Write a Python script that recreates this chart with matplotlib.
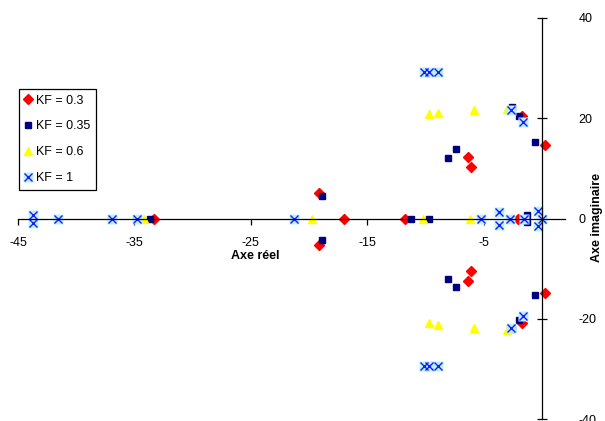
import matplotlib
matplotlib.use("Agg")
import matplotlib.pyplot as plt
from matplotlib.legend_handler import HandlerTuple

plt.rcParams['font.family'] = ['Liberation Sans', 'DejaVu Sans']
plt.rcParams['axes.unicode_minus'] = False

kf03_re = [-33.3, -16.95, -11.75, -2.05, -19.1, -19.1, -6.35, -6.35, -6.06, -6.06, -1.7, -1.7, 0.24, 0.24]
kf03_im = [0, 0, 0, 0, 5.0, -5.3, 12.3, -12.5, 10.3, -10.4, 20.4, -20.8, 14.7, -14.8]

kf035_re = [-33.7, -11.25, -9.67, -1.27, -1.27, -18.9, -18.9, -8.07, -8.07, -7.35, -7.35, -2.56, -2.56, -1.93, -1.93, -0.58, -0.58]
kf035_im = [0, 0, 0, 0.7, -0.7, 4.5, -4.3, 12.1, -12.0, 13.8, -13.7, 22.3, -22.0, 20.5, -20.2, 15.2, -15.3]

kf06_re = [-34.2, -19.7, -10.2, -6.15, -9.67, -9.67, -8.9, -8.9, -5.8, -5.8, -3.0, -3.0]
kf06_im = [0, 0, 0, 0, 20.8, -20.8, 21.1, -21.2, 21.7, -21.8, 21.9, -22.2]

kf1_re = [-41.6, -36.9, -34.8, -21.3, -5.25, -2.7, -1.56, 0.0, -43.7, -43.7, -10.08, -10.08, -9.65, -9.65,
          -8.87, -8.87, -2.62, -2.62, -1.62, -1.62, -3.63, -3.63, -0.3, -0.3]
kf1_im = [0, 0, 0, 0, 0, 0, 0, 0, 0.7, -0.8, 29.2, -29.4, 29.2, -29.4,
          29.2, -29.4, 21.6, -21.8, 19.3, -19.4, 1.2, -1.2, 1.4, -1.5]

labels = ['KF = 0.3', 'KF = 0.35', 'KF = 0.6', 'KF = 1']

fig = plt.figure(figsize=(6.05, 4.21), dpi=100)
ax = fig.add_axes([18 / 605, 2 / 421, (565 - 18) / 605, (419 - 18) / 421])

h1, = ax.plot(kf03_re, kf03_im, ls='none', marker='D', ms=5, color='#ff0000', mec='#ff0000')
h2, = ax.plot(kf035_re, kf035_im, ls='none', marker='s', ms=5, color='#000080', mec='#000080')
h3, = ax.plot(kf06_re, kf06_im, ls='none', marker='^', ms=6, color='#ffff00', mec='#ffff00')
h4b, = ax.plot(kf1_re, kf1_im, ls='none', marker='s', ms=7.5, color='#b8f2f6', mec='none')
h4, = ax.plot(kf1_re, kf1_im, ls='none', marker='x', ms=5.5, mew=1.0, color='#1a1aff')

ax.set_xlim(-45, 2)
ax.set_ylim(-40, 40)
ax.set_xticks([-45, -35, -25, -15, -5])
ax.set_yticks([-40, -20, 0, 20, 40])

for s in ['top', 'right']:
    ax.spines[s].set_visible(False)
ax.spines['left'].set_position(('data', 0))
ax.spines['bottom'].set_position(('data', 0))
ax.spines['left'].set_linewidth(0.9)
ax.spines['bottom'].set_linewidth(0.9)

ax.tick_params(axis='x', direction='out', length=4, width=0.9, labelsize=9, pad=9)
ax.tick_params(axis='y', direction='inout', length=7, width=0.9, labelsize=9,
               left=True, right=False, labelleft=False, labelright=True, pad=6)

fig.text(255 / 605, 1 - 256 / 421, 'Axe réel', fontsize=9, fontweight='bold', ha='center', va='center')
fig.text(597 / 605, 1 - 218 / 421, 'Axe imaginaire', fontsize=9, fontweight='bold',
         rotation=90, ha='center', va='center')

leg = ax.legend([h1, h2, h3, (h4b, h4)], labels, handler_map={tuple: HandlerTuple(ndivide=1)},
                loc='upper left', bbox_to_anchor=(19 / 605, 1 - 89 / 421), bbox_transform=fig.transFigure,
                fontsize=9, frameon=True, fancybox=False, framealpha=1, edgecolor='#000000',
                handlelength=0.6, handletextpad=0.3, labelspacing=1.1, borderpad=0.45, borderaxespad=0)
leg.get_frame().set_linewidth(0.9)

fig.savefig('out.png', dpi=100)
